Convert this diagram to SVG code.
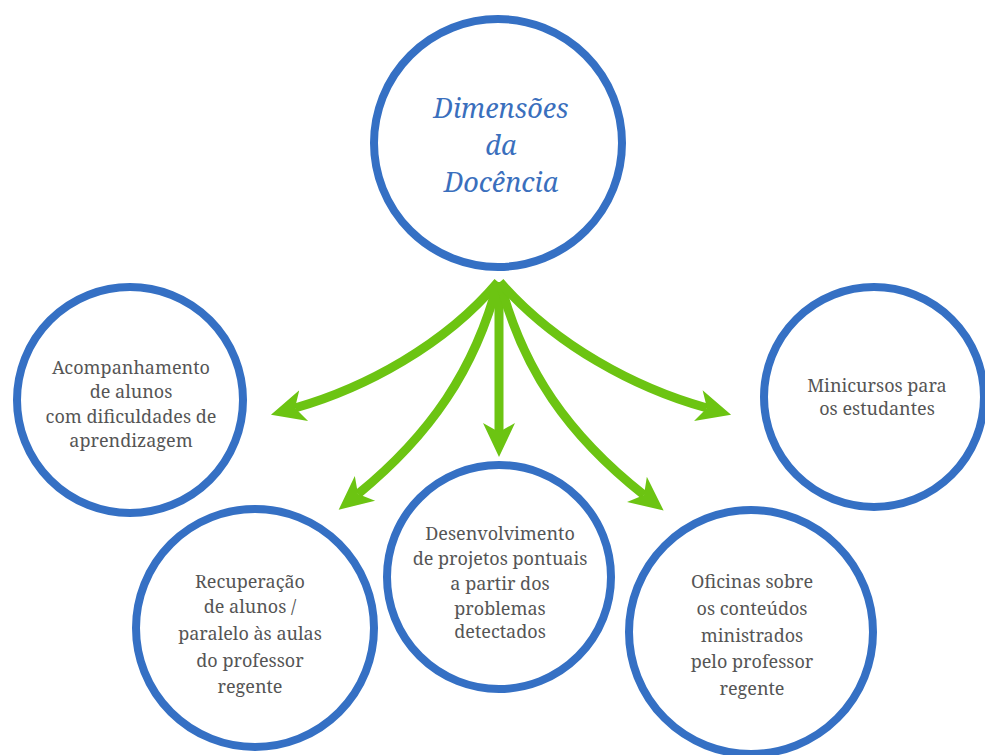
<svg xmlns="http://www.w3.org/2000/svg" width="985" height="755" viewBox="0 0 985 755">
<style>
.c{fill:#fff;stroke:#3570c4;stroke-width:8}
.t{font-family:"Noto Serif","DejaVu Serif","Liberation Serif",serif;font-size:18px;fill:#555;text-anchor:middle}
.h{font-family:"Noto Serif","DejaVu Serif","Liberation Serif",serif;font-size:27px;font-style:italic;fill:#3a6fbd;text-anchor:middle}
.a{fill:none;stroke:#6cc412;stroke-width:9}
</style>
<defs>
<marker id="ah" markerUnits="userSpaceOnUse" markerWidth="40" markerHeight="40" viewBox="0 -20 40 40" refX="9" refY="0" orient="auto">
<path d="M34,0 L0,-16 L9,0 L0,16 Z" fill="#6cc412"/>
</marker>
</defs>
<rect width="985" height="755" fill="#fff"/>
<g id="connectors">
<path class="a" d="M498,282 C445,345 365,388 295,408" marker-end="url(#ah)"/>
<path class="a" d="M498,282 C475,370 430,435 358,494" marker-end="url(#ah)"/>
<path class="a" d="M499,282 L499,432" marker-end="url(#ah)"/>
<path class="a" d="M500,282 C523,370 568,435 644,495" marker-end="url(#ah)"/>
<path class="a" d="M500,282 C555,345 635,388 707,408" marker-end="url(#ah)"/>
</g>
<g id="n-top">
<circle class="c" cx="498" cy="143" r="124"/>
<text class="h" x="501" y="118">Dimensões</text>
<text class="h" x="501" y="155">da</text>
<text class="h" x="501" y="192">Docência</text>
</g>
<g id="n-acomp">
<circle class="c" cx="130" cy="400" r="113"/>
<text class="t" x="131" y="374">Acompanhamento</text>
<text class="t" x="131" y="398">de alunos</text>
<text class="t" x="131" y="423">com dificuldades de</text>
<text class="t" x="131" y="447">aprendizagem</text>
</g>
<g id="n-mini">
<circle class="c" cx="874" cy="397" r="110"/>
<text class="t" x="877" y="392">Minicursos para</text>
<text class="t" x="877" y="415">os estudantes</text>
</g>
<g id="n-recup">
<circle class="c" cx="255" cy="628" r="119"/>
<text class="t" x="250" y="588">Recuperação</text>
<text class="t" x="250" y="613">de alunos /</text>
<text class="t" x="250" y="640">paralelo às aulas</text>
<text class="t" x="250" y="667">do professor</text>
<text class="t" x="250" y="693">regente</text>
</g>
<g id="n-desenv">
<circle class="c" cx="499" cy="577" r="112"/>
<text class="t" x="500" y="540">Desenvolvimento</text>
<text class="t" x="500" y="565">de projetos pontuais</text>
<text class="t" x="500" y="590">a partir dos</text>
<text class="t" x="500" y="615">problemas</text>
<text class="t" x="500" y="638">detectados</text>
</g>
<g id="n-ofic">
<circle class="c" cx="751" cy="632" r="122"/>
<text class="t" x="752" y="588">Oficinas sobre</text>
<text class="t" x="752" y="615">os conteúdos</text>
<text class="t" x="752" y="642">ministrados</text>
<text class="t" x="752" y="668">pelo professor</text>
<text class="t" x="752" y="695">regente</text>
</g>
</svg>
